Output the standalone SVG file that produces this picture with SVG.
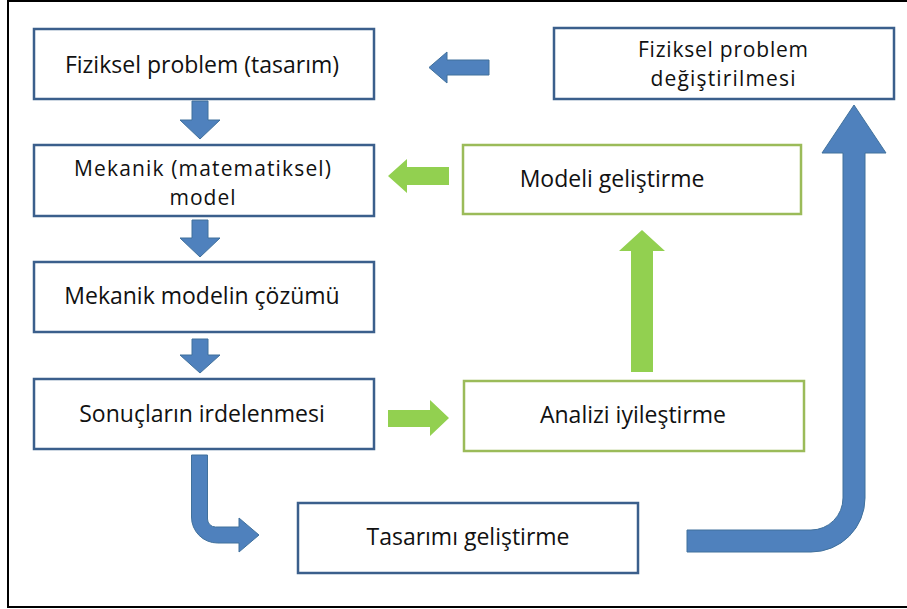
<svg xmlns="http://www.w3.org/2000/svg" width="907" height="609" viewBox="0 0 907 609">
<style>
.bg{fill:#ffffff}
.frame{fill:none;stroke:#000000;stroke-width:2}
.bbox{fill:#ffffff;stroke:#3B5F8C;stroke-width:2.5}
.gbox{fill:#ffffff;stroke:#9BBB59;stroke-width:2.5}
.lbl{font-family:"Open Sans","Liberation Sans",sans-serif;font-size:23px;fill:#111111;text-anchor:middle}
.lbl2{font-family:"Open Sans","Liberation Sans",sans-serif;font-size:21px;fill:#111111;text-anchor:middle}
.ba{fill:#4F81BD;stroke:#41719C;stroke-width:1}
.ga{fill:#92D050}
</style>
<rect class="bg" x="0" y="0" width="907" height="609"/>
<rect class="frame" x="8" y="1" width="910" height="606"/>

<g id="n1"><rect class="bbox" x="34" y="29" width="340" height="70"/><text class="lbl" x="202" y="73">Fiziksel problem (tasarım)</text></g>
<g id="n2"><rect class="bbox" x="34" y="145" width="340" height="71"/><text class="lbl2" x="202.5" y="176" textLength="257" lengthAdjust="spacing">Mekanik (matematiksel)</text><text class="lbl2" x="202.5" y="205" textLength="66" lengthAdjust="spacing">model</text></g>
<g id="n3"><rect class="bbox" x="34" y="262" width="340" height="70"/><text class="lbl" x="202" y="304">Mekanik modelin çözümü</text></g>
<g id="n4"><rect class="bbox" x="34" y="379" width="340" height="70"/><text class="lbl" x="202" y="422">Sonuçların irdelenmesi</text></g>
<g id="n5"><rect class="bbox" x="298" y="503" width="340" height="70"/><text class="lbl" x="468" y="545">Tasarımı geliştirme</text></g>
<g id="n6"><rect class="gbox" x="464" y="381" width="340" height="70"/><text class="lbl" x="633" y="423">Analizi iyileştirme</text></g>
<g id="n7"><rect class="gbox" x="463" y="145" width="338" height="69"/><text class="lbl" x="612" y="187">Modeli geliştirme</text></g>
<g id="n8"><rect class="bbox" x="554" y="28" width="340" height="71"/><text class="lbl2" x="723" y="56.5" textLength="170" lengthAdjust="spacing">Fiziksel problem</text><text class="lbl2" x="723" y="85.5" textLength="145" lengthAdjust="spacing">değiştirilmesi</text></g>

<g id="connectors">
<path class="ba" d="M192,101 L208,101 L208,120 L220,120 L200,139 L180,120 L192,120 Z"/>
<path class="ba" d="M192,220 L208,220 L208,238 L220,238 L200,257 L180,238 L192,238 Z"/>
<path class="ba" d="M192,339 L208,339 L208,355 L220,355 L200,373 L180,355 L192,355 Z"/>
<path class="ba" d="M489,60 L489,75 L447,75 L447,83 L429,67.5 L447,52 L447,60 Z"/>
<path class="ba" d="M191.5,455 L207.5,455 L207.5,519 A8,8 0 0 0 215.5,527 L239,527 L239,518 L259,535 L239,552 L239,543 L217.5,543 A26,26 0 0 1 191.5,517 Z"/>
<path class="ba" d="M687,530 L811,530 A32,32 0 0 0 843,498 L843,153 L822,153 L854,105 L886,153 L865,153 L865,498 A54,54 0 0 1 811,552 L687,552 Z"/>
<path class="ga" d="M449,167 L449,185 L407,185 L407,193 L388,176 L407,159 L407,167 Z"/>
<path class="ga" d="M388,410 L430,410 L430,400 L449,418 L430,436 L430,427 L388,427 Z"/>
<path class="ga" d="M631,372 L631,251 L619,251 L642,230 L665,251 L653,251 L653,372 Z"/>
</g>
</svg>
